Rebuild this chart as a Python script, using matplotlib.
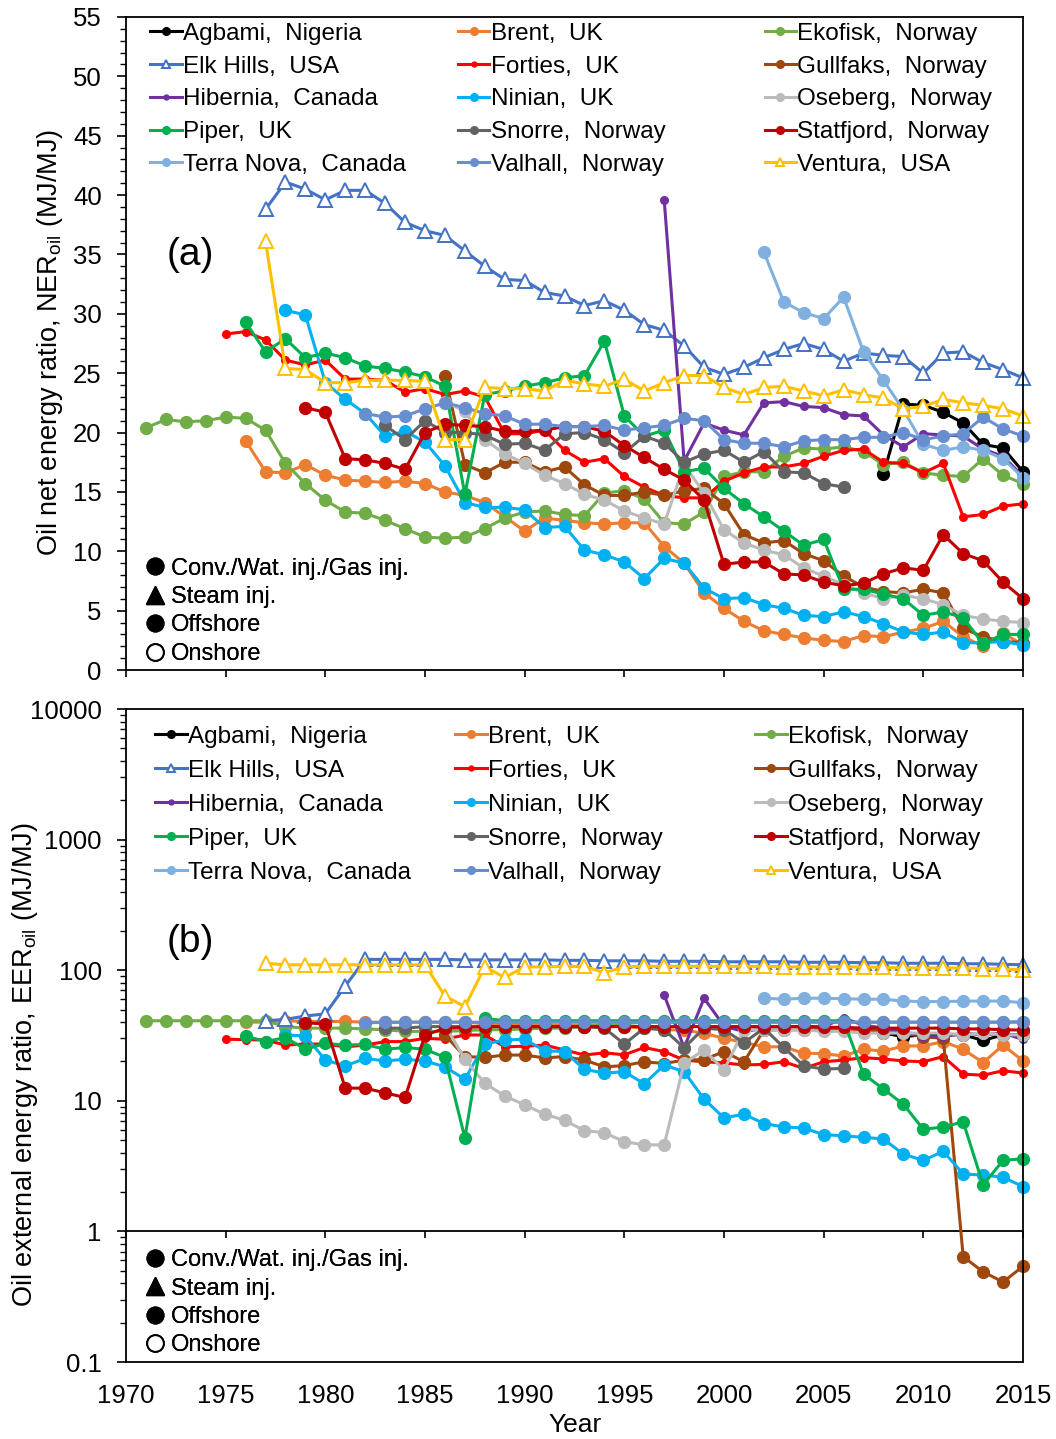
import matplotlib
matplotlib.use("Agg")
from matplotlib import pyplot as plt
from matplotlib.lines import Line2D
from matplotlib.ticker import MultipleLocator, LogLocator, NullFormatter, FuncFormatter

plt.rcParams['font.family'] = ['Liberation Sans', 'DejaVu Sans']
plt.rcParams['mathtext.default'] = 'regular'

# years for each field
agbami_yr = list(range(2008, 2016))
brent_yr = list(range(1976, 2016))
ekofisk_yr = list(range(1971, 2016))
elkhills_yr = list(range(1977, 2016))
forties_yr = list(range(1975, 2016))
gullfaks_yr = list(range(1986, 2016))
hibernia_yr = list(range(1997, 2016))
ninian_yr = list(range(1978, 2016))
oseberg_yr = list(range(1986, 2016))
piper_yr = list(range(1976, 2016))
snorre_yr = list(range(1983, 2007))
statfjord_yr = list(range(1979, 2016))
terranova_yr = list(range(2002, 2016))
valhall_yr = list(range(1982, 2016))
ventura_yr = list(range(1977, 2016))

# (a) net energy ratio NER_oil
agbami_ner = [16.5, 22.4, 22.3, 21.7, 20.8, 19.0, 18.7, 16.7]
brent_ner = [19.3, 16.7, 16.6, 17.3, 16.4, 16.0, 15.9, 15.8, 15.9, 15.7,
             15.0, 14.7, 14.1, 12.9, 11.7, 12.8, 12.6, 12.4, 12.3, 12.4,
             12.4, 10.4, 9.0, 6.5, 5.2, 4.1, 3.3, 3.0, 2.7, 2.5,
             2.4, 2.9, 2.8, 3.2, 3.5, 4.1, 2.8, 2.0, 3.1, 2.1]
ekofisk_ner = [20.4, 21.1, 20.9, 21.0, 21.3, 21.2, 20.2, 17.4, 15.7, 14.3,
               13.3, 13.2, 12.6, 11.9, 11.2, 11.1, 11.2, 11.9, 12.8, 13.3,
               13.4, 13.1, 13.0, 14.9, 15.1, 14.4, 12.4, 12.3, 13.3, 16.3,
               16.7, 16.7, 18.0, 18.7, 18.6, 18.8, 18.4, 17.3, 17.5, 16.6,
               16.4, 16.3, 17.8, 16.4, 15.7]
elkhills_ner = [38.8, 41.1, 40.5, 39.6, 40.4, 40.4, 39.3, 37.7, 37.0, 36.6,
                35.3, 34.0, 32.9, 32.8, 31.8, 31.5, 30.7, 31.1, 30.3, 29.1,
                28.6, 27.3, 25.5, 24.9, 25.5, 26.3, 27.0, 27.5, 27.0, 26.0,
                26.7, 26.5, 26.4, 25.0, 26.7, 26.8, 25.9, 25.3, 24.6]
forties_ner = [28.3, 28.5, 27.8, 26.1, 25.7, 26.1, 24.5, 24.5, 24.4, 23.4,
               23.7, 23.2, 23.5, 23.0, 19.9, 19.9, 20.2, 18.5, 17.5, 17.8,
               16.3, 15.4, 14.7, 14.5, 14.5, 15.9, 16.6, 17.1, 17.1, 17.4,
               18.0, 18.5, 18.6, 17.5, 17.4, 16.6, 17.4, 12.9, 13.1, 13.8, 14.0]
gullfaks_ner = [24.8, 17.3, 16.6, 17.5, 17.5, 16.7, 17.1, 15.6, 14.7, 14.7,
                15.0, 14.7, 15.1, 15.3, 14.0, 11.4, 10.7, 10.9, 9.8, 9.2,
                7.9, 7.0, 6.6, 6.5, 6.8, 6.5, 3.5, 2.8, 2.4, 2.3]
hibernia_ner = [39.6, 17.6, 20.8, 20.2, 19.8, 22.5, 22.6, 22.2, 22.1, 21.5,
                21.4, 19.8, 18.8, 19.9, 19.8, 19.7, 18.6, 18.0, 16.3]
ninian_ner = [30.3, 29.9, 24.2, 22.8, 21.6, 19.7, 20.1, 19.2, 17.2, 14.1,
              13.7, 13.7, 13.5, 12.0, 12.1, 10.1, 9.7, 9.1, 7.7, 9.4,
              9.0, 6.9, 6.0, 6.1, 5.5, 5.2, 4.6, 4.5, 4.9, 4.5,
              3.9, 3.2, 3.0, 3.2, 2.3, 2.3, 2.4, 2.1]
oseberg_ner = [22.6, 21.8, 19.4, 18.2, 17.4, 16.4, 15.7, 14.8, 14.3, 13.4,
               12.8, 12.3, 17.3, 14.9, 11.8, 10.7, 10.1, 9.7, 8.6, 7.9,
               7.2, 6.5, 6.0, 6.3, 6.0, 5.5, 4.6, 4.3, 4.1, 4.0]
piper_ner = [29.3, 26.8, 27.9, 26.3, 26.7, 26.3, 25.6, 25.4, 25.1, 24.7,
             23.9, 14.8, 23.2, 23.5, 23.9, 24.2, 24.6, 24.8, 27.7, 21.4,
             19.7, 20.2, 16.7, 17.0, 15.3, 14.0, 12.9, 11.7, 10.5, 11.0,
             6.8, 6.8, 6.4, 6.0, 4.6, 4.9, 4.4, 2.2, 3.0, 3.0]
snorre_ner = [20.6, 19.4, 21.0, 20.0, 20.0, 19.8, 19.0, 19.1, 18.5, 19.9,
              20.0, 19.4, 18.3, 19.7, 19.1, 17.5, 18.2, 18.5, 17.5, 18.4,
              16.7, 16.6, 15.7, 15.4]
statfjord_ner = [22.1, 21.7, 17.8, 17.7, 17.4, 16.9, 20.0, 20.7, 20.6, 20.5,
                 20.1, 20.1, 20.2, 20.5, 20.5, 20.1, 18.9, 17.9, 16.9, 16.0,
                 14.3, 8.9, 9.1, 9.1, 8.1, 8.0, 7.4, 7.1, 7.3, 8.1,
                 8.6, 8.4, 11.4, 9.8, 9.2, 7.4, 6.0]
terranova_ner = [35.2, 31.0, 30.1, 29.6, 31.4, 26.8, 24.4, 21.9, 19.0, 18.5,
                 18.8, 18.5, 17.8, 16.2]
valhall_ner = [21.6, 21.3, 21.4, 22.0, 22.5, 22.1, 21.6, 21.4, 20.7, 20.7,
               20.5, 20.5, 20.6, 20.2, 20.4, 20.6, 21.2, 21.0, 19.4, 19.1,
               19.1, 18.8, 19.3, 19.4, 19.4, 19.6, 19.6, 20.0, 19.4, 19.7,
               19.9, 21.3, 20.3, 19.7]
ventura_ner = [36.1, 25.4, 25.3, 24.2, 24.2, 24.4, 24.4, 24.4, 24.3, 19.4,
               19.4, 23.8, 23.7, 23.7, 23.5, 24.4, 24.1, 23.9, 24.5, 23.5,
               24.2, 24.8, 24.8, 23.8, 23.2, 23.8, 23.9, 23.5, 23.1, 23.6,
               23.2, 22.9, 22.0, 22.2, 22.8, 22.5, 22.3, 22.0, 21.4]

# (b) external energy ratio EER_oil
agbami_eer = [33, 31, 32, 32, 32, 29, 32, 32]
brent_eer = [40, 40, 41, 40.5, 40.5, 40.5, 40, 40, 40, 40,
             40, 40, 39, 39, 39, 38, 38, 38, 38, 37,
             36, 35, 34.8, 32.9, 30.1, 28, 25.9, 25.9, 23.1, 23.0,
             22.0, 24.8, 24.0, 26.3, 26.3, 28.4, 24.8, 19.6, 26.7, 20.2]
ekofisk_eer = [41, 41, 41, 41, 41, 41, 41, 37, 36, 36,
               36, 35.5, 35, 34, 34, 34, 34.5, 35, 35, 35.5,
               36, 36, 37, 38, 39, 40, 40, 40, 40, 40,
               40, 40, 40, 40, 40, 40, 40, 40, 40, 40,
               40, 40, 40, 40, 40]
elkhills_eer = [41, 42, 44.6, 46.3, 75.7, 121, 121, 121, 121, 121,
                120, 120, 120, 120, 120, 119, 119, 118, 118, 118,
                117, 117, 117, 116, 116, 116, 116, 115, 115, 115,
                114, 114, 113, 113, 113, 112, 112, 111, 110]
forties_eer = [29.6, 29.4, 29.2, 26.7, 27.2, 27.2, 25.9, 26.7, 28.4, 28.4,
               30.1, 29.6, 31.9, 31.9, 25.9, 26.2, 26.7, 24.5, 22.4, 23.3,
               22.5, 25.6, 23.8, 20.5, 19.9, 19.5, 18.8, 19.0, 19.9, 17.7,
               19.9, 20.5, 21.4, 20.9, 20.2, 19.9, 21.8, 16.0, 15.7, 17.0, 16.3]
gullfaks_eer = [31.9, 21.8, 21.5, 22.4, 22.4, 21.3, 21.8, 20.5, 18.2, 18.6,
                19.9, 19.3, 20.5, 20.7, 23.8, 19.9, 34.8, 35, 35, 35,
                35, 35, 34, 33, 31, 30, 0.64, 0.49, 0.41, 0.54]
hibernia_eer = [64.6, 25.5, 61, 37.4, 33.8, 36, 37, 37, 37, 42.9,
                38, 36, 34, 31, 31, 33, 32, 33, 29.5]
ninian_eer = [31.9, 31.4, 20.5, 18.5, 21.1, 20.2, 20.8, 20.2, 18.2, 14.6,
              27.2, 29.2, 29.6, 24.2, 23.8, 17.4, 16.3, 16.7, 13.5, 18.8,
              16.7, 10.3, 7.4, 7.9, 6.7, 6.3, 6.2, 5.5, 5.4, 5.25,
              5.1, 3.9, 3.5, 4.1, 2.75, 2.7, 2.6, 2.2]
oseberg_eer = [38, 20.8, 13.6, 10.9, 9.3, 7.9, 7.1, 5.9, 5.7, 4.86,
               4.6, 4.6, 19.4, 24.5, 17.2, 35, 35, 35, 35, 34,
               34, 33, 33, 33, 33, 33, 32, 33, 32, 32]
piper_eer = [31.4, 28.4, 30.5, 24.8, 27.5, 26.7, 27.0, 24.8, 25.6, 24.8,
             21.5, 5.2, 42.8, 41, 41, 41, 41, 41, 41, 41,
             41, 41, 41, 41, 41, 41, 41, 41, 41, 41,
             41, 16.0, 12.3, 9.4, 6.05, 6.3, 6.9, 2.27, 3.5, 3.6]
snorre_eer = [36, 36, 37, 37, 37, 37, 37, 37, 37, 37,
              37, 36, 27.2, 36, 35, 25.5, 36, 35, 27.8, 36,
              25.6, 18.5, 17.5, 17.7]
statfjord_eer = [39.6, 38.7, 12.5, 12.5, 11.5, 10.6, 31.9, 35.9, 36.5, 37,
                 37, 37, 37, 37, 37, 37, 37, 37, 37, 37,
                 37, 37, 37, 37, 37, 37, 36.5, 36.5, 36, 36,
                 36, 36, 36, 35.5, 35.5, 35, 34.8]
terranova_eer = [61, 60, 61, 61, 60.5, 60, 60, 58, 57.5, 57.5,
                 58, 58, 58, 56.4]
valhall_eer = [39.6, 39.8, 40, 40, 40, 40, 40, 40, 40, 40,
               40, 40, 40, 40, 40, 40, 40, 40, 40, 40,
               40, 40, 40, 40, 40, 40, 40, 40, 40, 40,
               40, 40, 40, 40.4]
ventura_eer = [113, 110, 110, 110, 110, 110, 110, 110, 110, 63.4,
               52.5, 106, 88, 106, 106, 107, 107, 95.7, 106, 107,
               107, 107, 107, 107, 107, 107, 106, 106, 106, 106,
               106, 105, 104, 104, 104, 104, 103, 102, 101]

# name, years, NER, EER, colour, marker kind
series = [
    ('Agbami,  Nigeria', agbami_yr, agbami_ner, agbami_eer, '#000000', 'o'),
    ('Brent,  UK', brent_yr, brent_ner, brent_eer, '#ED7D31', 'o'),
    ('Ekofisk,  Norway', ekofisk_yr, ekofisk_ner, ekofisk_eer, '#70AD47', 'o'),
    ('Elk Hills,  USA', elkhills_yr, elkhills_ner, elkhills_eer, '#4472C4', '^'),
    ('Forties,  UK', forties_yr, forties_ner, forties_eer, '#FF0000', '.'),
    ('Gullfaks,  Norway', gullfaks_yr, gullfaks_ner, gullfaks_eer, '#9E480E', 'o'),
    ('Hibernia,  Canada', hibernia_yr, hibernia_ner, hibernia_eer, '#7030A0', '.'),
    ('Ninian,  UK', ninian_yr, ninian_ner, ninian_eer, '#00B0F0', 'o'),
    ('Oseberg,  Norway', oseberg_yr, oseberg_ner, oseberg_eer, '#BBBBBB', 'o'),
    ('Piper,  UK', piper_yr, piper_ner, piper_eer, '#00B050', 'o'),
    ('Snorre,  Norway', snorre_yr, snorre_ner, snorre_eer, '#636363', 'o'),
    ('Statfjord,  Norway', statfjord_yr, statfjord_ner, statfjord_eer, '#C00000', 'o'),
    ('Terra Nova,  Canada', terranova_yr, terranova_ner, terranova_eer, '#7FB0DF', 'o'),
    ('Valhall,  Norway', valhall_yr, valhall_ner, valhall_eer, '#698ED0', 'o'),
    ('Ventura,  USA', ventura_yr, ventura_ner, ventura_eer, '#FFC000', '^'),
]

type_labels = ['Conv./Wat. inj./Gas inj.', 'Steam inj.', 'Offshore', 'Onshore']

LEG_FS = 17.5


def draw_series(ax, panel):
    handles = []
    for i, (name, yr, ner, eer, color, mk) in enumerate(series):
        vals = ner if panel == 'a' else eer
        if mk == '^':
            kw = dict(marker='^', ms=9.5, mfc='white', mec=color, mew=1.4)
        elif mk == '.':
            kw = dict(marker='o', ms=5.5, mfc=color, mec=color)
        else:
            kw = dict(marker='o', ms=8.5, mfc=color, mec=color)
        h, = ax.plot(yr, vals, color=color, lw=2.2, label=name,
                     zorder=2 + i * 0.01, clip_on=False, **kw)
        handles.append(h)
    return handles


def add_legends(ax, handles, xs, top, spacing, type_top):
    for c in range(3):
        hs = handles[c::3]
        leg = ax.legend(hs, [h.get_label() for h in hs], loc='upper left',
                        bbox_to_anchor=(xs[c], top), frameon=False,
                        fontsize=LEG_FS, borderpad=0, borderaxespad=0,
                        handlelength=1.3, handletextpad=0.05,
                        labelspacing=spacing, markerscale=0.65)
        ax.add_artist(leg)
    # marker type legend
    th = [Line2D([], [], ls='none', marker='o', ms=12, color='k'),
          Line2D([], [], ls='none', marker='^', ms=13, color='k'),
          Line2D([], [], ls='none', marker='o', ms=12, color='k'),
          Line2D([], [], ls='none', marker='o', ms=12, mfc='white', mec='k', mew=1.4)]
    leg = ax.legend(th, type_labels, loc='upper left', bbox_to_anchor=(0.022, type_top),
                    frameon=False, fontsize=17, borderpad=0, borderaxespad=0,
                    handlelength=0.75, handletextpad=0.3, labelspacing=0.27)
    ax.add_artist(leg)


def style_axes(ax):
    for s in ax.spines.values():
        s.set_linewidth(1.3)
    ax.tick_params(axis='y', which='major', direction='out', length=6.5, width=1.2,
                   labelsize=18.5, pad=11)
    ax.tick_params(axis='y', which='minor', direction='out', length=4, width=1.0)
    ax.set_xlim(1970, 2015)
    ax.xaxis.set_major_locator(MultipleLocator(5))


fig = plt.figure(figsize=(10.56, 14.39), dpi=100)
ax_a = fig.add_axes([126 / 1056, 1 - 670 / 1439, 897 / 1056, 653 / 1439])
ax_b = fig.add_axes([126 / 1056, 1 - 1362 / 1439, 897 / 1056, 653 / 1439])

# panel (a)
style_axes(ax_a)
ha = draw_series(ax_a, 'a')
ax_a.set_ylim(0, 55)
ax_a.yaxis.set_major_locator(MultipleLocator(5))
ax_a.yaxis.set_minor_locator(MultipleLocator(1))
ax_a.tick_params(axis='x', direction='out', length=5, width=1.2, labelbottom=False)
add_legends(ax_a, ha, [0.0268, 0.370, 0.712], 0.991, 0.44, 0.172)
ax_a.text(0.0713, 0.6355, '(a)', transform=ax_a.transAxes, fontsize=28,
          ha='center', va='center')

# panel (b)
style_axes(ax_b)
hb = draw_series(ax_b, 'b')
ax_b.set_yscale('log')
ax_b.set_ylim(0.1, 10000)
ax_b.yaxis.set_major_locator(LogLocator(base=10, numticks=10))
ax_b.yaxis.set_minor_locator(LogLocator(base=10, subs=range(2, 10), numticks=10))
ax_b.yaxis.set_minor_formatter(NullFormatter())
ax_b.yaxis.set_major_formatter(FuncFormatter(lambda v, p: f'{v:g}'))
ax_b.tick_params(axis='x', length=0, labelsize=18.5, pad=16)
sec = ax_b.secondary_xaxis(0.2)
sec.xaxis.set_major_locator(MultipleLocator(5))
sec.tick_params(axis='x', direction='out', length=5, width=1.2, labelbottom=False)
sec.spines['bottom'].set_linewidth(1.3)
add_legends(ax_b, hb, [0.0323, 0.3668, 0.7012], 0.974, 0.49, 0.1725)
ax_b.text(0.0713, 0.643, '(b)', transform=ax_b.transAxes, fontsize=28,
          ha='center', va='center')

fig.text(50 / 1056, 1 - 342 / 1439, r'Oil net energy ratio, NER$_{oil}$ (MJ/MJ)',
         rotation=90, ha='center', va='center', fontsize=19.5)
fig.text(25 / 1056, 1 - 1065 / 1439, r'Oil external energy ratio, EER$_{oil}$ (MJ/MJ)',
         rotation=90, ha='center', va='center', fontsize=19.5)
fig.text(575 / 1056, 1 - 1425 / 1439, 'Year', ha='center', va='center', fontsize=19)

fig.savefig('out.png', dpi=100)
